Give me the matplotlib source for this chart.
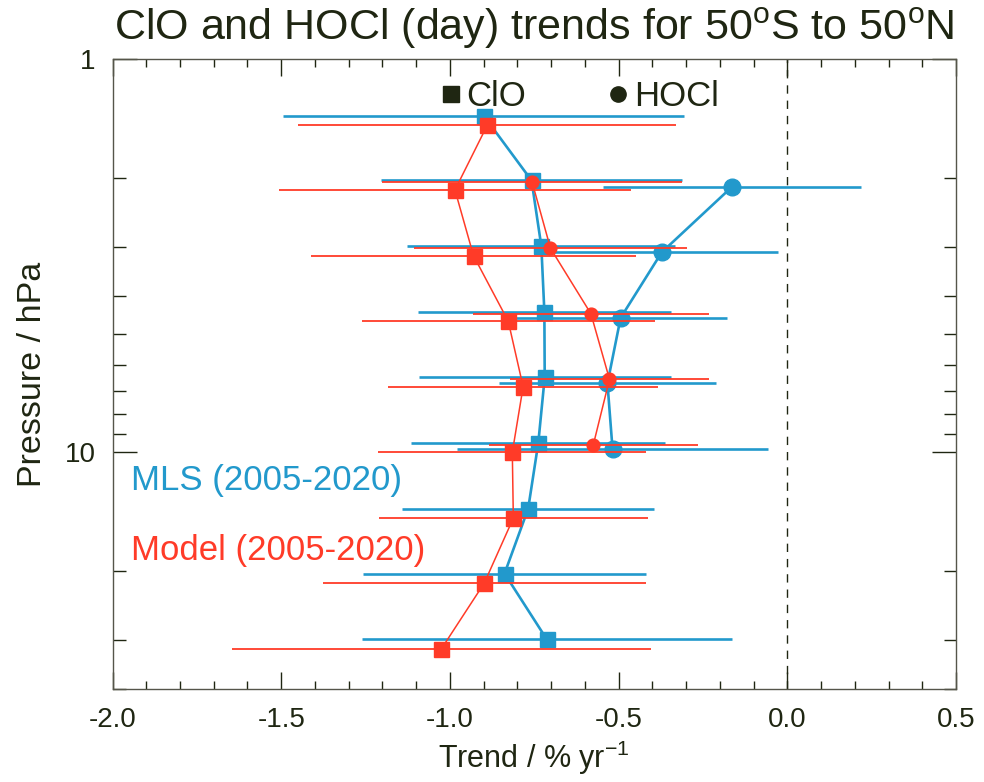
import matplotlib
matplotlib.use("Agg")
import matplotlib.pyplot as plt
import numpy as np
from matplotlib.ticker import FixedLocator, MultipleLocator, LogLocator, NullFormatter, FixedFormatter
from matplotlib.lines import Line2D

plt.rcParams['font.family'] = ['Liberation Sans', 'DejaVu Sans']
plt.rcParams['mathtext.fontset'] = 'custom'
plt.rcParams['mathtext.rm'] = 'Liberation Sans'
plt.rcParams['mathtext.it'] = 'Liberation Sans:italic'

# ---------------- data ----------------
levels_clo = [1.47, 2.15, 3.16, 4.64, 6.81, 10.0, 14.7, 21.5, 31.6]
clo_mls = [-0.90, -0.758, -0.729, -0.720, -0.719, -0.738, -0.768, -0.838, -0.713]
clo_mls_err = [0.595, 0.445, 0.397, 0.376, 0.374, 0.377, 0.373, 0.420, 0.549]
clo_model = [-0.889, -0.985, -0.930, -0.827, -0.783, -0.815, -0.812, -0.898, -1.025]
clo_model_err = [0.560, 0.522, 0.483, 0.435, 0.400, 0.397, 0.399, 0.478, 0.621]

levels_hocl = [2.15, 3.16, 4.64, 6.81, 10.0]
hocl_mls = [-0.163, -0.372, -0.494, -0.533, -0.518]
hocl_mls_err = [0.382, 0.343, 0.314, 0.322, 0.462]
hocl_model = [-0.756, -0.702, -0.582, -0.527, -0.575]
hocl_model_err = [0.445, 0.405, 0.350, 0.295, 0.310]

x_ticks = [-2.0, -1.5, -1.0, -0.5, 0.0, 0.5]
x_tick_labels = ['-2.0', '-1.5', '-1.0', '-0.5', '0.0', '0.5']
y_ticks = [1, 10]
y_tick_labels = ['1', '10']

# ---------------- style ----------------
BLUE = '#2299CC'
RED = '#FF3B28'
DARK = '#1F2612'

fig = plt.figure(figsize=(9.84, 7.82), dpi=100)
ax = fig.add_axes([112.5 / 984, 1 - 689 / 782, (956 - 112.5) / 984, (689 - 59.3) / 782])

def draw(x, err, levels, shift, color, marker, ms, lw, elw, z):
    p = np.array(levels) * shift
    ax.errorbar(x, p, xerr=err, fmt='none', ecolor=color, elinewidth=elw,
                capsize=0, zorder=z)
    ax.plot(x, p, color=color, lw=lw, marker=marker, ms=ms,
            mec=color, mfc=color, zorder=z + 0.5)

# MLS (blue) first, model (red) on top
draw(clo_mls, clo_mls_err, levels_clo, 0.946, BLUE, 's', 10.8, 1.9, 1.9, 2)
draw(hocl_mls, hocl_mls_err, levels_hocl, 0.980, BLUE, 'o', 12.0, 1.9, 1.9, 3)
draw(clo_model, clo_model_err, levels_clo, 1.0, RED, 's', 10.8, 1.1, 1.3, 4)
draw(hocl_model, hocl_model_err, levels_hocl, 0.957, RED, 'o', 9.2, 1.1, 1.3, 5)

ax.axvline(0.0, color=DARK, lw=1.0, ls=(0, (6, 5)), zorder=1)

ax.set_xlim(-2.0, 0.5)
ax.set_yscale('log')
ax.set_ylim(40, 1)

ax.xaxis.set_major_locator(FixedLocator(x_ticks))
ax.xaxis.set_major_formatter(FixedFormatter(x_tick_labels))
ax.xaxis.set_minor_locator(MultipleLocator(0.1))
ax.yaxis.set_major_locator(FixedLocator(y_ticks))
ax.yaxis.set_major_formatter(FixedFormatter(y_tick_labels))
ax.yaxis.set_minor_locator(LogLocator(base=10, subs=np.arange(2, 10)))
ax.yaxis.set_minor_formatter(NullFormatter())

ax.tick_params(axis='x', which='major', direction='in', length=12, width=1,
               top=True, bottom=True, labelsize=20, pad=13, colors=DARK)
ax.tick_params(axis='x', which='minor', direction='in', length=6, width=1,
               top=True, bottom=True, colors=DARK)
ax.tick_params(axis='y', which='major', direction='in', length=17, width=1,
               left=True, right=True, labelsize=20, pad=12, colors=DARK)
ax.tick_params(axis='y', which='minor', direction='in', length=9, width=1,
               left=True, right=True, colors=DARK)
for s in ax.spines.values():
    s.set_color('#55554a')
    s.set_linewidth(1.0)

ax.set_xlabel('Trend / % yr$^{\\mathrm{-1}}$', fontsize=22, color=DARK, labelpad=4)
ax.set_ylabel('Pressure / hPa', fontsize=24.5, color=DARK, labelpad=12)

fig.text(534 / 984, 1 - 40 / 782, 'ClO and HOCl (day) trends for 50$^{\\mathrm{o}}$S to 50$^{\\mathrm{o}}$N',
         ha='center', va='baseline', fontsize=31, color=DARK)

handles = [Line2D([], [], ls='none', marker='s', ms=11, color=DARK),
           Line2D([], [], ls='none', marker='o', ms=11, color=DARK)]
ax.legend(handles, ['ClO', 'HOCl'], ncol=2, loc='upper center',
          bbox_to_anchor=(0.555, 1.0), frameon=False, fontsize=25,
          handlelength=0.5, handletextpad=0.2, columnspacing=2.4,
          borderaxespad=0.2, labelcolor=DARK)

ax.text(0.0216, 0.316, 'MLS (2005-2020)', transform=ax.transAxes,
        color=BLUE, fontsize=25, ha='left', va='baseline')
ax.text(0.0216, 0.205, 'Model (2005-2020)', transform=ax.transAxes,
        color=RED, fontsize=25, ha='left', va='baseline')

fig.savefig('out.png', dpi=100)
